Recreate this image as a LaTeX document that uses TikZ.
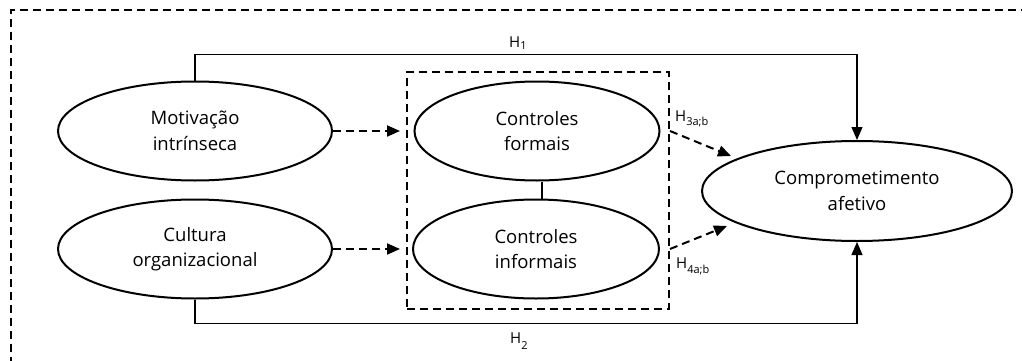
\documentclass[tikz,border=0pt]{standalone}
\usepackage{fontspec}
\setmainfont{Open Sans}
\usetikzlibrary{arrows.meta,shapes.geometric}
\newcommand{\hsub}[2]{H\raisebox{-#2}{\fontsize{11}{11}\selectfont #1}}
\begin{document}
\begin{tikzpicture}[x=1pt,y=-1pt,
  var/.style={draw,ellipse,line width=2pt,inner sep=0pt,align=center,
    font=\fontsize{18.5}{25.5}\selectfont},
  thin/.style={line width=1.2pt},
  dsh/.style={line width=2pt,dash pattern=on 8pt off 5pt},
  arr/.style={-{Triangle[length=13pt,width=11pt]}},
  lbl/.style={inner sep=0pt,font=\fontsize{15}{15}\selectfont}]
\useasboundingbox (0,0) rectangle (1022,361);
\draw[dsh] (11,365) -- (11,10) -- (1026,10);
\node[var,minimum width=274pt,minimum height=99pt] (M) at (195,131) {Motivação\\intrínseca};
\node[var,minimum width=274pt,minimum height=99pt] (K) at (195,249) {Cultura\\organizacional};
\node[var,minimum width=245pt,minimum height=99pt] (F) at (537,131) {Controles\\formais};
\node[var,minimum width=246pt,minimum height=99pt] (I) at (536,249) {Controles\\informais};
\node[var,minimum width=310pt,minimum height=100pt] (C) at (857,191) {Comprometimento\\afetivo};
\node[draw,dsh,minimum width=262pt,minimum height=237pt,inner sep=0pt] (G) at (538,190.5) {};
\coordinate (t3) at (731,156);
\coordinate (t4) at (727,226);
% H1 and H2
\draw[thin,arr] (M.north) -- ++(0,-26) -| (C.north);
\draw[thin,arr] (K.south) -- ++(0,24) -| (C.south);
% mediators
\draw[dsh,arr,shorten >=6pt] (M.east) -- (M.east -| G.west);
\draw[dsh,arr,shorten >=6pt] (K.east) -- (K.east -| G.west);
\draw[dsh,arr] (F.east -| G.east) -- (t3);
\draw[dsh,arr] (I.east -| G.east) -- (t4);
\draw[line width=2pt] ([xshift=5pt]F.south) -- ([xshift=6pt]I.north);
% labels
\node[lbl,anchor=base west] (h1) at (509,48) {\hsub{1}{2pt}};
\node[lbl,anchor=base west] (h2) at (510,343) {\hsub{2}{6pt}};
\node[lbl,anchor=base west] (h3) at (675,121) {\hsub{3a;b}{5pt}};
\node[lbl,anchor=base west] (h4) at (676,268) {\hsub{4a;b}{5pt}};
\end{tikzpicture}
\end{document}
